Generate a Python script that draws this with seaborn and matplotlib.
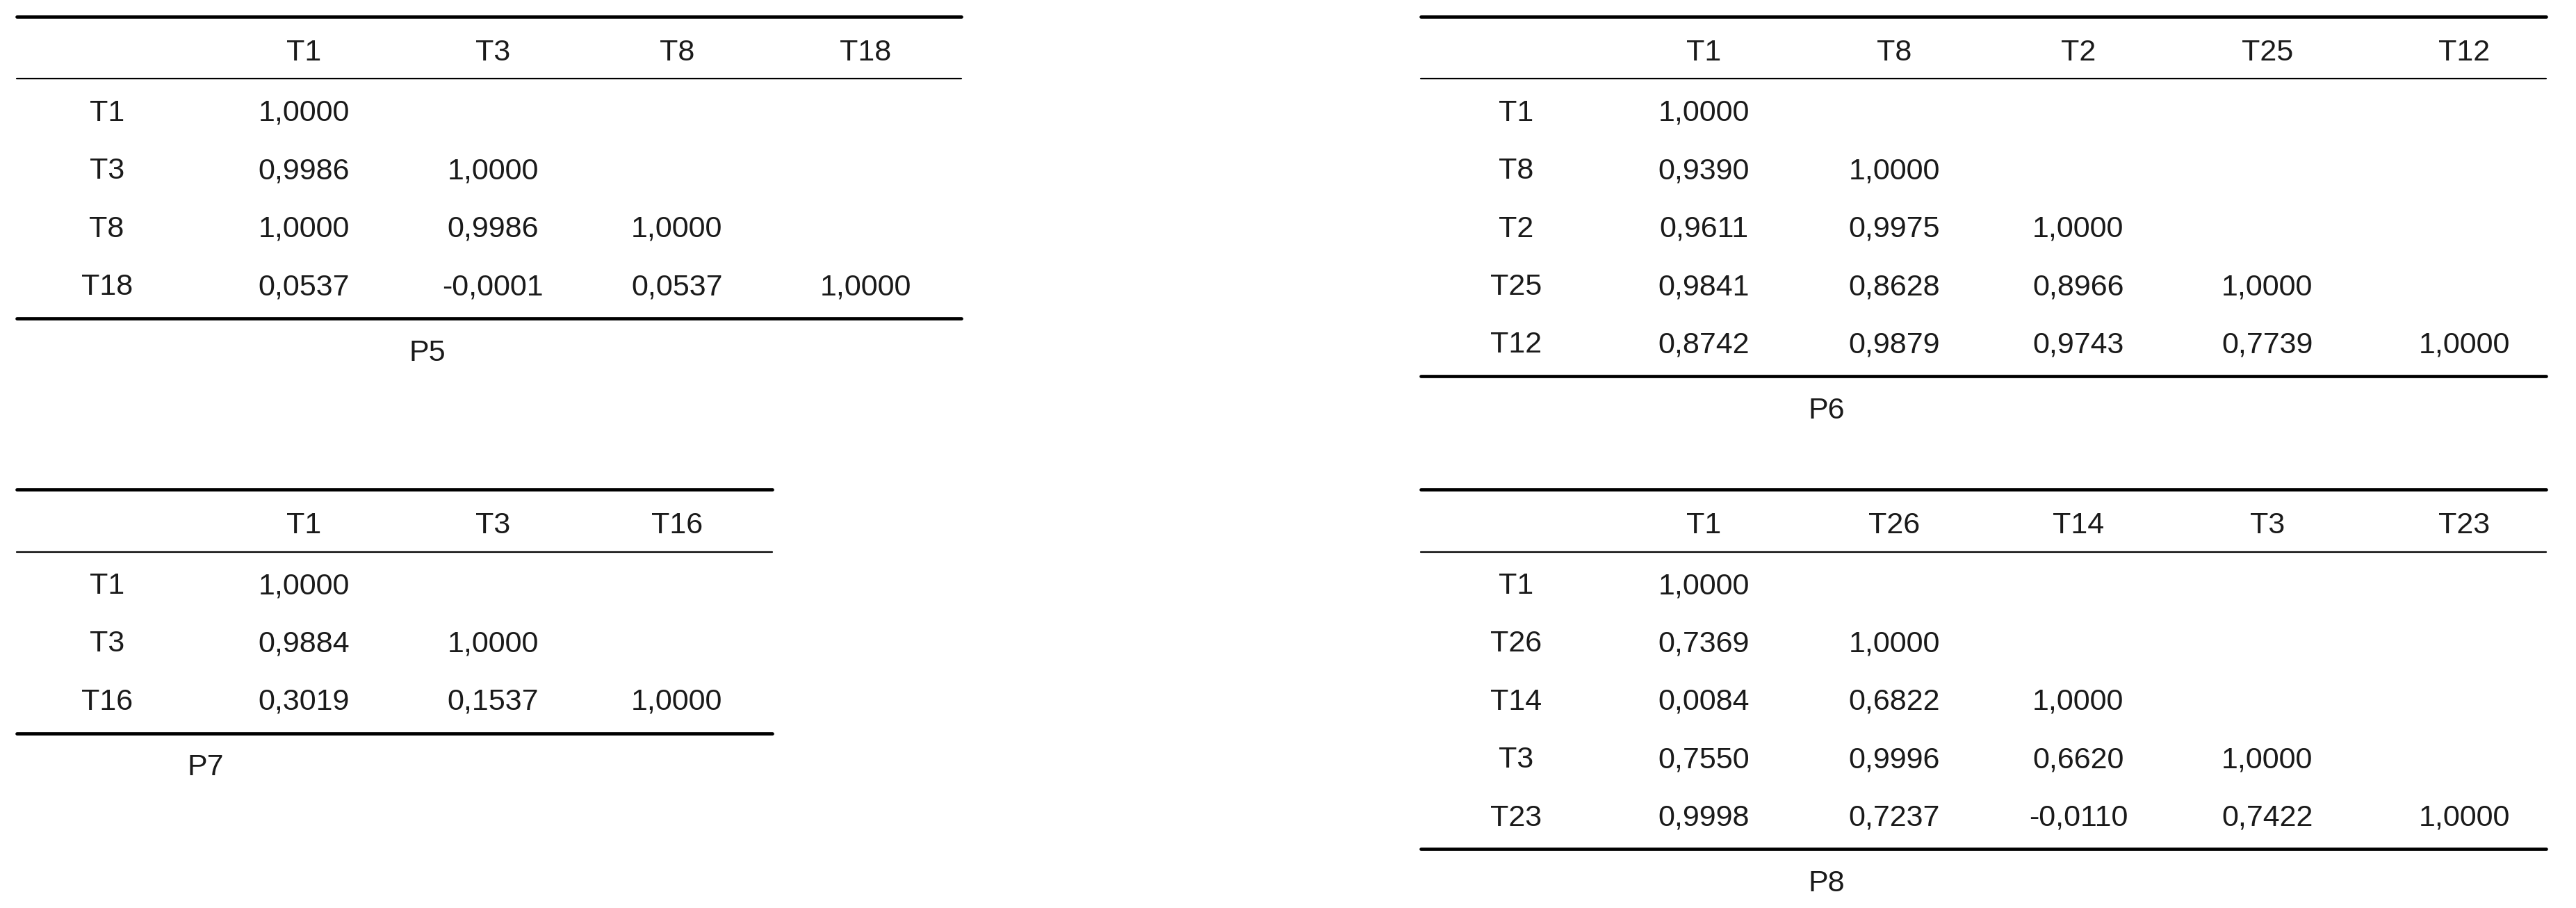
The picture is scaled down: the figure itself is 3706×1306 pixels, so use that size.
import matplotlib
matplotlib.use("Agg")
import matplotlib.pyplot as plt
import seaborn as sns

sns.set_theme(style="white")
plt.rcParams['font.family'] = ['Liberation Sans', 'DejaVu Sans']

p5_labels = ["T1", "T3", "T8", "T18"]
p5_values = [["1,0000"], ["0,9986", "1,0000"], ["1,0000", "0,9986", "1,0000"],
             ["0,0537", "-0,0001", "0,0537", "1,0000"]]
p6_labels = ["T1", "T8", "T2", "T25", "T12"]
p6_values = [["1,0000"], ["0,9390", "1,0000"], ["0,9611", "0,9975", "1,0000"],
             ["0,9841", "0,8628", "0,8966", "1,0000"],
             ["0,8742", "0,9879", "0,9743", "0,7739", "1,0000"]]
p7_labels = ["T1", "T3", "T16"]
p7_values = [["1,0000"], ["0,9884", "1,0000"], ["0,3019", "0,1537", "1,0000"]]
p8_labels = ["T1", "T26", "T14", "T3", "T23"]
p8_values = [["1,0000"], ["0,7369", "1,0000"], ["0,0084", "0,6822", "1,0000"],
             ["0,7550", "0,9996", "0,6620", "1,0000"],
             ["0,9998", "0,7237", "-0,0110", "0,7422", "1,0000"]]
titles = ["P5", "P6", "P7", "P8"]

fig = plt.figure(figsize=(37.06, 13.06), dpi=100)
ax = fig.add_axes([0, 0, 1, 1])
ax.set_xlim(0, 1568)
ax.set_ylim(553, 0)
ax.axis("off")
fs = 31
col = "#1a1a1a"

def table(labels, values, title, x0, x1, top, cols_x, label_x, title_x):
    ax.plot([x0, x1], [top, top], color="black", lw=3.4)
    hy = top + 22
    for lab, cx in zip(labels, cols_x):
        ax.text(cx, hy, lab, ha="center", va="center", fontsize=fs, color=col)
    ax.plot([x0, x1], [top + 38, top + 38], color="black", lw=1.6)
    ry = top + 59
    for i, lab in enumerate(labels):
        y = ry + i * 35.3
        ax.text(label_x, y, lab, ha="center", va="center", fontsize=fs, color=col)
        for v, cx in zip(values[i], cols_x):
            ax.text(cx, y, v, ha="center", va="center", fontsize=fs, color=col)
    bot = ry + (len(labels) - 1) * 35.3 + 19
    ax.plot([x0, x1], [bot, bot], color="black", lw=3.4)
    ax.text(title_x, bot + 21, title, ha="center", va="center", fontsize=fs, color=col)

table(p5_labels, p5_values, titles[0], 10, 585, 10, [185, 300, 412, 527], 65, 260)
table(p6_labels, p6_values, titles[1], 865, 1550, 10, [1037, 1153, 1265, 1380, 1500], 923, 1112)
table(p7_labels, p7_values, titles[2], 10, 470, 298, [185, 300, 412], 65, 125)
table(p8_labels, p8_values, titles[3], 865, 1550, 298, [1037, 1153, 1265, 1380, 1500], 923, 1112)

fig.savefig("out.png", dpi=100, facecolor="white")
